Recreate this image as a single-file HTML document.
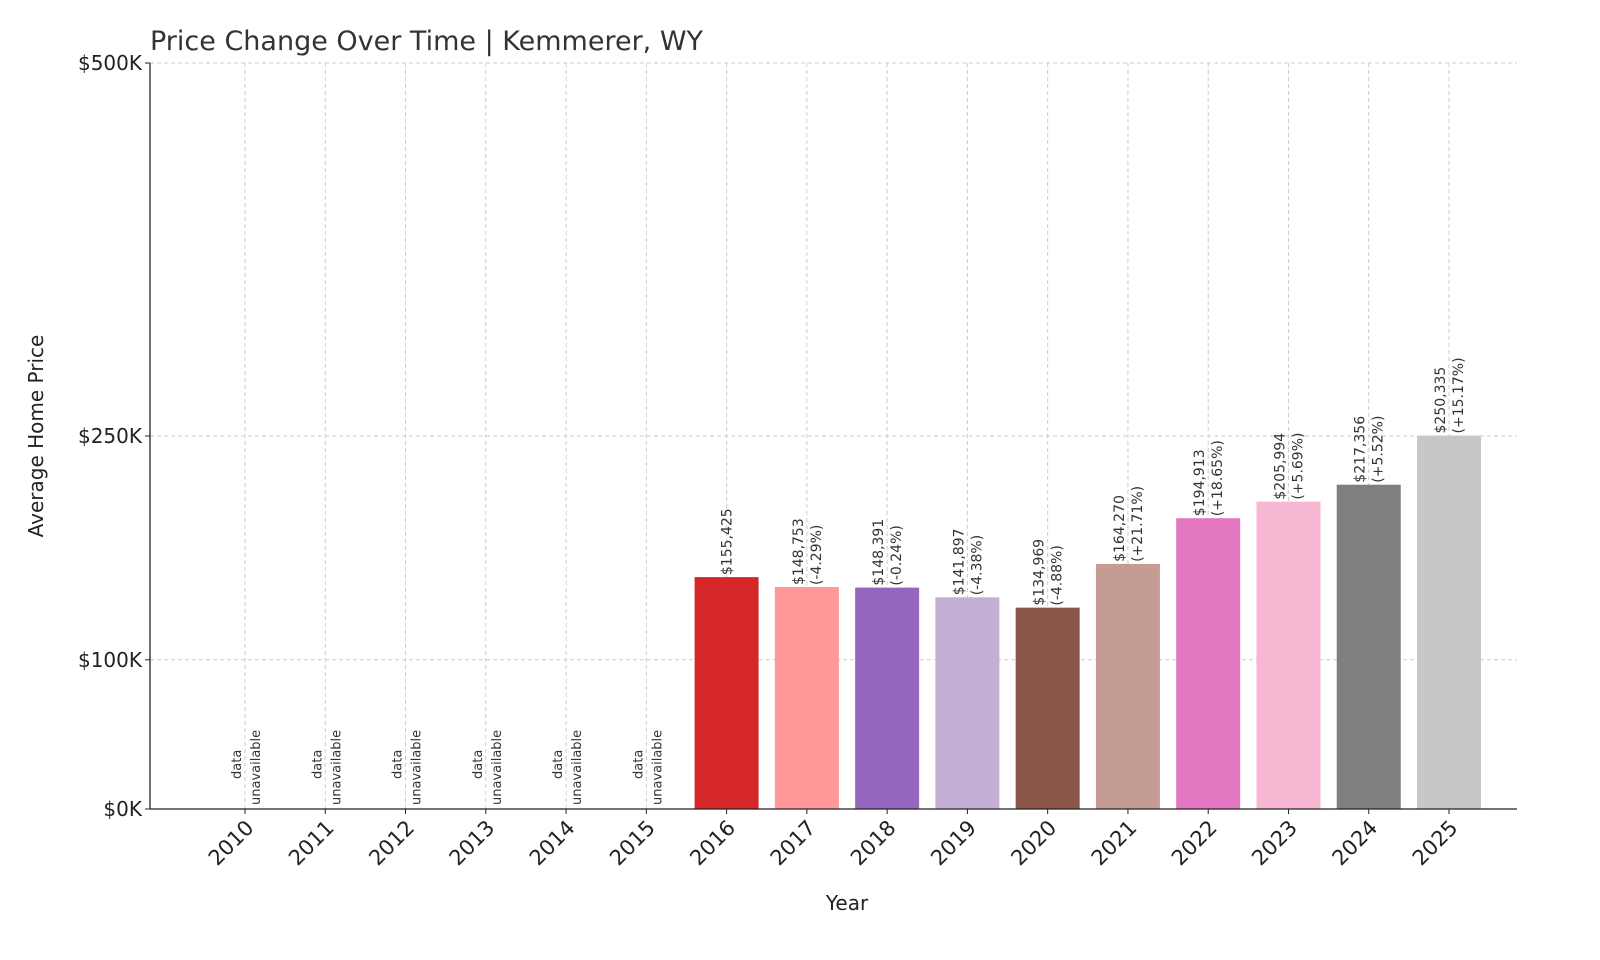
<!DOCTYPE html>
<html><head><meta charset="utf-8"><style>
html,body{margin:0;padding:0;background:#fff}
svg{display:block;font-family:"DejaVu Sans","Liberation Sans",sans-serif}
</style></head><body>
<svg id="chart" width="1600" height="960" viewBox="0 0 1600 960" xmlns="http://www.w3.org/2000/svg">
<rect width="1600" height="960" fill="#fff"/>
<text x="150" y="50" font-size="27" fill="#333">Price Change Over Time | Kemmerer, WY</text>
<text transform="translate(43,436) rotate(-90)" text-anchor="middle" font-size="20" fill="#222">Average Home Price</text>
<text x="847" y="910" text-anchor="middle" font-size="20" fill="#222">Year</text>
<g id="grid"></g><g id="bars"></g><g id="labels"></g><g id="axes"></g>
</svg>
<script>
const years=[2010,2011,2012,2013,2014,2015,2016,2017,2018,2019,2020,2021,2022,2023,2024,2025];
const prices=[null,null,null,null,null,null,155425,148753,148391,141897,134969,164270,194913,205994,217356,250335];
const changes=[null,null,null,null,null,null,null,"-4.29%","-0.24%","-4.38%","-4.88%","+21.71%","+18.65%","+5.69%","+5.52%","+15.17%"];
const colors=["#1f77b4","#aec7e8","#ff7f0e","#ffbb78","#2ca02c","#98df8a","#d62728","#ff9896","#9467bd","#c5b0d5","#8c564b","#c49c94","#e377c2","#f7b6d2","#7f7f7f","#c7c7c7"];
const yTicks=[0,100000,250000,500000];
const yTickLabels=["$0K","$100K","$250K","$500K"];
const NS="http://www.w3.org/2000/svg";
const L=150,R=1517,T=63,B=809;
const x0=245,step=(1449-245)/15,bw=64;
function xs(i){return x0+i*step;}
function ys(v){return B-(v/500000)*(B-T);}
function mk(tag,attrs,parent,txt){const e=document.createElementNS(NS,tag);for(const k in attrs)e.setAttribute(k,attrs[k]);if(txt!==undefined)e.textContent=txt;parent.appendChild(e);return e;}
const grid=document.getElementById('grid'),bars=document.getElementById('bars'),labels=document.getElementById('labels'),axes=document.getElementById('axes');
years.forEach((y,i)=>{
  const g=mk('line',{x1:xs(i),x2:xs(i),y1:T,y2:B,stroke:"#ccc","stroke-dasharray":"4,3","stroke-width":1},grid);
  
  
});
yTicks.forEach((v,i)=>{
  if(v>0){const g=mk('line',{x1:L,x2:R,y1:ys(v),y2:ys(v),stroke:"#ccc","stroke-dasharray":"4,3","stroke-width":1},grid);
  
  }
  const t=mk('text',{x:L-8,y:ys(v)+7,"text-anchor":"end","font-size":20,fill:"#222"},axes,yTickLabels[i]);
  
  
  const k=mk('line',{x1:L-5,x2:L,y1:ys(v),y2:ys(v),stroke:"#222"},axes);
  
  
});
years.forEach((y,i)=>{
  const cx=xs(i);
  const t=mk('text',{transform:`translate(${cx+10},${B+20}) rotate(-45)`,"text-anchor":"end","font-size":21,fill:"#222"},axes,String(y));
  
  
  const k=mk('line',{x1:cx,x2:cx,y1:B,y2:B+5,stroke:"#222"},axes);
  
  
  const p=prices[i];
  if(p===null){
    const a=mk('text',{transform:`translate(${cx-4},${B-30}) rotate(-90)`,"font-size":13,fill:"#333","text-anchor":"start"},labels,"data");
    
    
    const b=mk('text',{transform:`translate(${cx+15},${B-4}) rotate(-90)`,"font-size":13,fill:"#333","text-anchor":"start"},labels,"unavailable");
    
    
    return;
  }
  const top=ys(p);
  const r=mk('rect',{x:cx-bw/2,y:top,width:bw,height:B-top,fill:colors[i]},bars);
  
  
  const val='$'+p.toLocaleString('en-US');
  if(changes[i]===null){
    const a=mk('text',{transform:`translate(${cx+5},${top-2}) rotate(-90)`,"font-size":14,fill:"#333"},labels,val);
    
    
  }else{
    const a=mk('text',{transform:`translate(${cx-4},${top-2}) rotate(-90)`,"font-size":14,fill:"#333"},labels,val);
    
    
    const b=mk('text',{transform:`translate(${cx+14},${top-2}) rotate(-90)`,"font-size":14,fill:"#333"},labels,'('+changes[i]+')');
    
    
  }
});
const ax1=mk('line',{x1:L,x2:L,y1:T,y2:B,stroke:"#222","stroke-width":1.3},axes);


const ax2=mk('line',{x1:L,x2:R,y1:B,y2:B,stroke:"#222","stroke-width":1.3},axes);


</script>
</body></html>
